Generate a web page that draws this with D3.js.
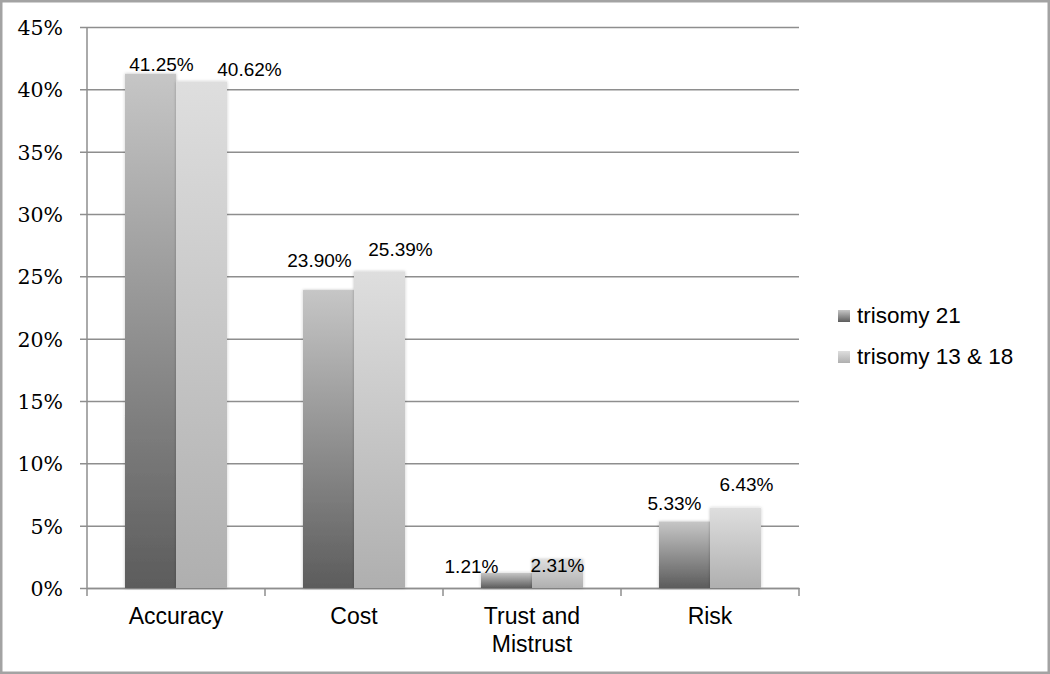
<!DOCTYPE html>
<html>
<head>
<meta charset="utf-8">
<script src="https://cdn.jsdelivr.net/npm/d3@7"></script>
<style>
  body { margin: 0; background: #fff; }
  svg { display: block; }
</style>
</head>
<body>
<div id="chart"></div>
<script>

// data
var categories = [["Accuracy"], ["Cost"], ["Trust and", "Mistrust"], ["Risk"]];
var seriesNames = ["trisomy 21", "trisomy 13 & 18"];
var trisomy21 = [41.25, 23.90, 1.21, 5.33];
var trisomy1318 = [40.62, 25.39, 2.31, 6.43];
var yTicks = [0, 5, 10, 15, 20, 25, 30, 35, 40, 45];

// where excel dropped each value label, relative to bar centre / bar top
var labelNudge = [
  [[11, -3], [48, -6]],
  [[-9, -23], [21, -15]],
  [[-35, 0], [0, 13]],
  [[-10, -12], [11, -17]]
];

var width = 1050, height = 674;
var plotLeft = 87, plotRight = 799, plotTop = 27, plotBottom = 588;

var svg = d3.select("#chart").append("svg")
    .attr("width", width)
    .attr("height", height);

var defs = svg.append("defs");

function addGradient(id, bottom, top) {
  var g = defs.append("linearGradient")
      .attr("id", id)
      .attr("x1", 0).attr("y1", 1)
      .attr("x2", 0).attr("y2", 0);
  g.append("stop").attr("offset", "0%").attr("stop-color", bottom);
  g.append("stop").attr("offset", "100%").attr("stop-color", top);
}
addGradient("grad0", "#5c5c5c", "#c6c6c6");
addGradient("grad1", "#afafaf", "#dedede");

var shadow = defs.append("filter").attr("id", "soft")
    .attr("x", "-20%").attr("y", "-20%").attr("width", "140%").attr("height", "140%");
shadow.append("feDropShadow")
    .attr("dx", 0).attr("dy", 0)
    .attr("stdDeviation", 1.5)
    .attr("flood-color", "#000")
    .attr("flood-opacity", 0.25);

// frame
svg.append("rect")
    .attr("x", 1).attr("y", 1)
    .attr("width", width - 2).attr("height", height - 2)
    .attr("fill", "none")
    .attr("stroke", "#a3a3a3")
    .attr("stroke-width", 3);

var catKeys = categories.map(function(c) { return c.join(" "); });

var x0 = d3.scaleBand()
    .domain(catKeys)
    .range([plotLeft, plotRight])
    .paddingInner(0)
    .paddingOuter(0);

var x1 = d3.scaleBand()
    .domain(d3.range(seriesNames.length))
    .range([0, x0.bandwidth()])
    .paddingInner(0)
    .paddingOuter(0.745);

var y = d3.scaleLinear()
    .domain([0, 45])
    .range([plotBottom, plotTop]);

// gridlines + y axis
var yAxis = d3.axisLeft(y)
    .tickValues(yTicks)
    .tickSize(-(plotRight - plotLeft))
    .tickFormat(function(d) { return d + "%"; });

var gy = svg.append("g")
    .attr("transform", "translate(" + plotLeft + ",0)")
    .call(yAxis);
gy.select(".domain").remove();
gy.selectAll(".tick line")
    .attr("x1", -7)
    .attr("stroke", "#8e8e8e")
    .attr("stroke-width", 1.5);
gy.selectAll(".tick text")
    .attr("x", -24)
    .attr("dy", "0.36em")
    .attr("fill", "#000")
    .style("font-family", "'DejaVu Serif', serif")
    .style("font-size", "20.5px");

svg.append("line")
    .attr("x1", plotLeft).attr("x2", plotLeft)
    .attr("y1", plotTop).attr("y2", plotBottom)
    .attr("stroke", "#8e8e8e")
    .attr("stroke-width", 1.5);

// x axis
var xAxis = d3.axisBottom(x0)
    .tickValues([])
    .tickSizeOuter(0);
var gx = svg.append("g")
    .attr("transform", "translate(0," + plotBottom + ")")
    .call(xAxis);
gx.select(".domain").attr("stroke", "#8e8e8e").attr("stroke-width", 1.5);

var edges = catKeys.map(function(k) { return x0(k); }).concat([plotRight]);
gx.selectAll("line.cat-tick")
    .data(edges)
    .enter()
    .append("line")
    .attr("class", "cat-tick")
    .attr("x1", function(d) { return d; })
    .attr("x2", function(d) { return d; })
    .attr("y1", 0).attr("y2", 8)
    .attr("stroke", "#8e8e8e")
    .attr("stroke-width", 1.5);

var catLabels = svg.append("g").selectAll("text")
    .data(categories)
    .enter()
    .append("text")
    .attr("x", function(d) { return x0(d.join(" ")) + x0.bandwidth() / 2; })
    .attr("y", 624)
    .attr("text-anchor", "middle")
    .style("font-family", "'Liberation Sans', Arial, sans-serif")
    .style("font-size", "23px")
    .attr("fill", "#000");
catLabels.selectAll("tspan")
    .data(function(d) { return d; })
    .enter()
    .append("tspan")
    .attr("x", function() { return d3.select(this.parentNode).attr("x"); })
    .attr("dy", function(d, i) { return i === 0 ? 0 : 28; })
    .text(function(d) { return d; });

// bars
var rows = catKeys.map(function(k, i) {
  return { key: k, index: i, values: [trisomy21[i], trisomy1318[i]] };
});

var groups = svg.append("g").selectAll("g")
    .data(rows)
    .enter()
    .append("g")
    .attr("transform", function(d) { return "translate(" + x0(d.key) + ",0)"; });

groups.selectAll("rect")
    .data(function(d) { return d.values; })
    .enter()
    .append("rect")
    .attr("x", function(d, i) { return x1(i); })
    .attr("y", function(d) { return y(d); })
    .attr("width", x1.bandwidth())
    .attr("height", function(d) { return plotBottom - y(d); })
    .attr("fill", function(d, i) { return "url(#grad" + i + ")"; })
    .attr("filter", "url(#soft)");

groups.selectAll("text")
    .data(function(d) {
      return d.values.map(function(v, i) { return { v: v, i: i, c: d.index }; });
    })
    .enter()
    .append("text")
    .attr("x", function(d) { return x1(d.i) + x1.bandwidth() / 2 + labelNudge[d.c][d.i][0]; })
    .attr("y", function(d) { return y(d.v) + labelNudge[d.c][d.i][1]; })
    .attr("text-anchor", "middle")
    .style("font-family", "'Liberation Sans', Arial, sans-serif")
    .style("font-size", "19px")
    .attr("fill", "#000")
    .text(function(d) { return d.v.toFixed(2) + "%"; });

// legend
var legend = svg.append("g").selectAll("g")
    .data(seriesNames)
    .enter()
    .append("g")
    .attr("transform", function(d, i) { return "translate(838," + (310 + i * 41) + ")"; });

legend.append("rect")
    .attr("width", 12).attr("height", 12)
    .attr("fill", function(d, i) { return "url(#grad" + i + ")"; });

legend.append("text")
    .attr("x", 19)
    .attr("y", 13)
    .style("font-family", "'Liberation Sans', Arial, sans-serif")
    .style("font-size", "22.5px")
    .attr("fill", "#000")
    .text(function(d) { return d; });

</script>
</body>
</html>
